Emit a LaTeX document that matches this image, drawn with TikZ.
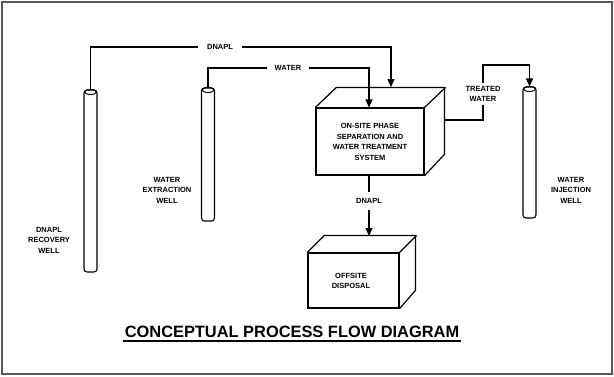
\documentclass[tikz,border=0pt]{standalone}
\usepackage{fontspec}
\setsansfont{Liberation Sans}
\usetikzlibrary{arrows.meta}

\begin{document}
\begin{tikzpicture}[x=1pt,y=1pt,
    lbl/.style={font=\sffamily\bfseries\fontsize{7.5}{10.5}\selectfont, align=center},
    flow/.style={line width=1.1pt},
    tip/.style={-{Triangle[length=8pt,width=7pt]}},
    tube/.style={draw, line width=1.1pt, rounded corners=3pt, minimum width=13pt, inner sep=0pt},
    unit/.style={draw, line width=1.2pt, fill=white, inner sep=0pt}]
    \useasboundingbox (0,0) rectangle (614,376);
    \draw[line width=2pt, black!65] (2,2) rectangle (612,374);

    % wells
    \node[tube, minimum height=182pt] (recwell) at (90.5,195)   {};
    \node[tube, minimum height=133pt] (extwell) at (208,221.5)  {};
    \node[tube, minimum height=131pt] (injwell) at (529.5,223.5) {};
    \foreach \w in {recwell,extwell,injwell}
        \draw[line width=1pt] ([yshift=-2.5pt]\w.north) ellipse (6pt and 2.5pt);
    \node[lbl] (reclbl) at (49,136)  {DNAPL\\RECOVERY\\WELL};
    \node[lbl] (extlbl) at (167,186) {WATER\\EXTRACTION\\WELL};
    \node[lbl] (injlbl) at (571,186) {WATER\\INJECTION\\WELL};

    % treatment unit
    \node[unit, minimum width=108pt, minimum height=67pt] (treat) at (370,234.5) {};
    \draw[line width=1.2pt] (treat.north west) -- ++(21,20) -- ++(108,0) -- ++(0,-67) -- (treat.south east);
    \draw[line width=1.2pt] (treat.north east) -- ++(21,20);
    \node[lbl] (treatlbl) at (370,234) {ON-SITE PHASE\\SEPARATION AND\\WATER TREATMENT\\SYSTEM};
    \coordinate (treattop) at (391,289);
    \coordinate (treatout) at (445,256);

    % offsite disposal
    \node[unit, minimum width=91pt, minimum height=55pt] (offsite) at (353.5,95.5) {};
    \draw[line width=1.2pt] (offsite.north west) -- ++(17,17) -- ++(91,0) -- ++(0,-55) -- (offsite.south east);
    \draw[line width=1.2pt] (offsite.north east) -- ++(17,17);
    \node[lbl] (offlbl) at (351,95) {OFFSITE\\DISPOSAL};
    \coordinate (offtop) at (369,140);

    % flow lines
    \node[lbl, inner xsep=9pt] (dnapl1) at (220,329) {DNAPL};
    \node[lbl, inner xsep=8pt] (water1) at (288,308) {WATER};
    \node[lbl, inner ysep=6pt] (dnapl2) at (369,175) {DNAPL};
    \node[lbl, inner ysep=3pt] (treated) at (483,282) {TREATED\\WATER};

    \draw[flow] (recwell.north) |- (dnapl1.west);
    \draw[flow,tip] (dnapl1.east) -| (treattop);
    \draw[flow] (extwell.north) |- (water1.west);
    \draw[flow,tip] (water1.east) -| ([xshift=-1pt]treat.north);
    \draw[flow] ([xshift=-1pt]treat.south) -- (dnapl2.north);
    \draw[flow,tip] (dnapl2.south) -- (offtop);
    \draw[flow] (treatout) -| (treated.south);
    \draw[flow,tip] (treated.north) |- (504,311) -| (injwell.north);

    % title
    \node[font=\sffamily\bfseries\fontsize{16.4}{18}\selectfont, inner sep=0pt] (title) at (292,44) {CONCEPTUAL PROCESS FLOW DIAGRAM};
    \draw[line width=1.3pt] ([shift={(-2pt,-3pt)}]title.south west) -- ([shift={(2pt,-3pt)}]title.south east);
\end{tikzpicture}
\end{document}
